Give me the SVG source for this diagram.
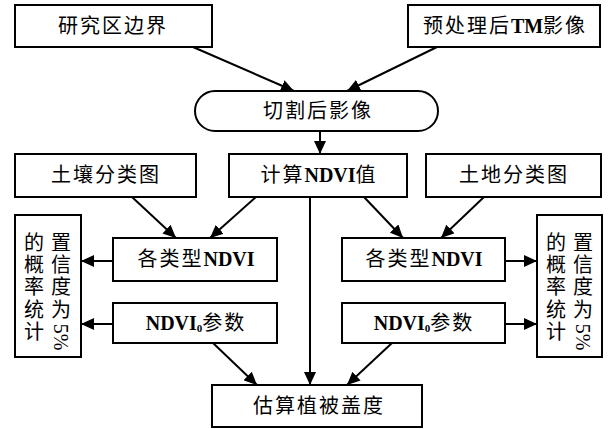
<svg xmlns="http://www.w3.org/2000/svg" width="610" height="429" viewBox="0 0 610 429">
<defs>
<marker id="ah" markerUnits="userSpaceOnUse" markerWidth="14" markerHeight="12" refX="13" refY="6" orient="auto">
<path d="M0,0 L13,6 L0,12 Z" fill="#000"/>
</marker>
<style>
.b{fill:#fff;stroke:#000;stroke-width:2}
.t{font-family:"Liberation Serif","Noto Sans CJK SC",serif;font-size:20px;fill:#000;text-anchor:middle;dominant-baseline:central;letter-spacing:2px}
.e{font-weight:bold;letter-spacing:0}
.v{font-family:"Liberation Serif","Noto Sans CJK SC",serif;font-size:20px;fill:#000;text-anchor:middle;dominant-baseline:central}
.c{stroke:#000;stroke-width:2;fill:none;marker-end:url(#ah)}
</style>
</defs>
<rect width="610" height="429" fill="#fff"/>
<g id="connectors">
<line class="c" x1="193" y1="47" x2="294" y2="91"/>
<line class="c" x1="437" y1="47" x2="347" y2="91"/>
<line class="c" x1="320" y1="131" x2="320" y2="154"/>
<line class="c" x1="132" y1="197" x2="176" y2="238"/>
<line class="c" x1="256" y1="197" x2="210" y2="238"/>
<line class="c" x1="364" y1="197" x2="403" y2="238"/>
<line class="c" x1="484" y1="197" x2="441" y2="238"/>
<line class="c" x1="113" y1="261" x2="81" y2="261"/>
<line class="c" x1="113" y1="324" x2="81" y2="324"/>
<line class="c" x1="505" y1="261" x2="537" y2="261"/>
<line class="c" x1="505" y1="324" x2="537" y2="324"/>
<line class="c" x1="310" y1="197" x2="310" y2="385"/>
<line class="c" x1="213" y1="343" x2="257" y2="385"/>
<line class="c" x1="392" y1="343" x2="347" y2="385"/>
</g>
<g id="n1"><rect class="b" x="15" y="5" width="197" height="42"/><text class="t" x="113" y="26">研究区边界</text></g>
<g id="n2"><rect class="b" x="408" y="5" width="192" height="42"/><text class="t" x="505" y="26">预处理后<tspan class="e">TM</tspan>影像</text></g>
<g id="n3"><rect class="b" x="195" y="91" width="243" height="40" rx="20" ry="20"/><text class="t" x="318" y="111">切割后影像</text></g>
<g id="n4"><rect class="b" x="15" y="154" width="181" height="43"/><text class="t" x="106" y="175">土壤分类图</text></g>
<g id="n5"><rect class="b" x="229" y="154" width="178" height="43"/><text class="t" x="319" y="175">计算<tspan class="e">NDVI</tspan>值</text></g>
<g id="n6"><rect class="b" x="426" y="154" width="175" height="43"/><text class="t" x="514" y="175">土地分类图</text></g>
<g id="n7"><rect class="b" x="113" y="238" width="164" height="43"/><text class="t" x="196" y="259">各类型<tspan class="e">NDVI</tspan></text></g>
<g id="n8"><rect class="b" x="342" y="238" width="163" height="43"/><text class="t" x="424" y="259">各类型<tspan class="e">NDVI</tspan></text></g>
<g id="n9"><rect class="b" x="113" y="303" width="164" height="40"/><text class="t" x="196" y="323"><tspan class="e">NDVI</tspan><tspan class="e" font-size="11" dy="5">0</tspan><tspan dy="-5">参数</tspan></text></g>
<g id="n10"><rect class="b" x="342" y="303" width="163" height="40"/><text class="t" x="424" y="323"><tspan class="e">NDVI</tspan><tspan class="e" font-size="11" dy="5">0</tspan><tspan dy="-5">参数</tspan></text></g>
<g id="n11"><rect class="b" x="15" y="215" width="66" height="142"/>
<text class="v" x="34" y="243">的</text><text class="v" x="34" y="265">概</text><text class="v" x="34" y="287">率</text><text class="v" x="34" y="310">统</text><text class="v" x="34" y="332">计</text>
<text class="v" x="61" y="243">置</text><text class="v" x="61" y="265">信</text><text class="v" x="61" y="287">度</text><text class="v" x="61" y="310">为</text><text class="v" x="61" y="337" transform="rotate(90 61 337)">5%</text>
</g>
<g id="n12"><rect class="b" x="537" y="215" width="65" height="142"/>
<text class="v" x="556" y="243">的</text><text class="v" x="556" y="265">概</text><text class="v" x="556" y="287">率</text><text class="v" x="556" y="310">统</text><text class="v" x="556" y="332">计</text>
<text class="v" x="583" y="243">置</text><text class="v" x="583" y="265">信</text><text class="v" x="583" y="287">度</text><text class="v" x="583" y="310">为</text><text class="v" x="583" y="337" transform="rotate(90 583 337)">5%</text>
</g>
<g id="n13"><rect class="b" x="212" y="385" width="210" height="42"/><text class="t" x="319" y="406">估算植被盖度</text></g>
</svg>
